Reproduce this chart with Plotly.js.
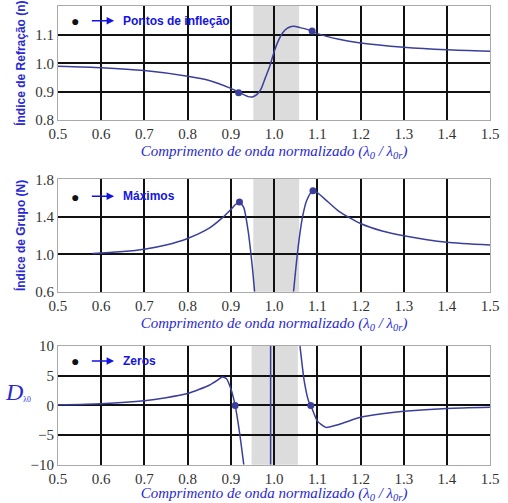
<!DOCTYPE html>
<html>
<head>
<meta charset="utf-8">
<script src="https://cdn.plot.ly/plotly-3.0.1.min.js"></script>
<style>body{margin:0}#myDiv{width:508px;height:503px}</style>
</head>
<body>
<div id="myDiv"></div>
<script>
// Índice de refração n
var n_x = [0.5,0.6,0.7,0.8,0.85,0.9,0.92,0.94,0.95,0.96,0.97,0.98,0.99,1.0,1.01,1.02,1.03,1.04,1.05,1.06,1.08,1.1,1.15,1.2,1.3,1.4,1.5];
var n_y = [0.99,0.985,0.975,0.955,0.94,0.912,0.897,0.883,0.882,0.89,0.91,0.95,0.99,1.04,1.08,1.108,1.123,1.13,1.13,1.126,1.118,1.105,1.085,1.072,1.057,1.048,1.043];
var n_pts_x = [0.918,1.088];
var n_pts_y = [0.897,1.114];

// Índice de grupo N (dois ramos)
var g1_x = [0.58,0.6,0.65,0.7,0.75,0.8,0.85,0.88,0.9,0.91,0.92,0.93,0.94,0.95,0.955];
var g1_y = [1.01,1.015,1.03,1.055,1.1,1.17,1.28,1.39,1.48,1.53,1.56,1.5,1.25,0.85,0.6];
var g2_x = [1.045,1.055,1.065,1.075,1.085,1.09,1.1,1.125,1.15,1.2,1.25,1.3,1.4,1.5];
var g2_y = [0.6,1.05,1.38,1.57,1.66,1.68,1.66,1.56,1.46,1.33,1.25,1.2,1.13,1.1];
var g_pts_x = [0.92,1.09];
var g_pts_y = [1.56,1.68];

// Dispersão D
var d1_x = [0.5,0.6,0.7,0.75,0.8,0.85,0.87,0.88,0.89,0.9,0.91,0.92,0.93];
var d1_y = [0.1,0.3,0.8,1.3,2.0,3.4,4.3,4.8,4.5,2.8,0,-4.5,-10];
var d2_x = [0.992,0.992];
var d2_y = [-10,10];
var d3_x = [1.06,1.07,1.08,1.085,1.1,1.12,1.15,1.2,1.25,1.3,1.4,1.5];
var d3_y = [10,4,0.7,0,-2.6,-3.7,-3.2,-2.0,-1.4,-1.0,-0.5,-0.3];
var d_pts_x = [0.91,1.085];
var d_pts_y = [0,0];

var blue = '#3b3f9a';
function line(x, y, xa, ya) {
  return {x: x, y: y, xaxis: xa, yaxis: ya, mode: 'lines', line: {color: blue, width: 1.5, shape: 'spline', smoothing: 0.6}, hoverinfo: 'none'};
}
function pts(x, y, xa, ya) {
  return {x: x, y: y, xaxis: xa, yaxis: ya, mode: 'markers', marker: {color: blue, size: 7}};
}
var data = [
  line(n_x, n_y, 'x', 'y'), pts(n_pts_x, n_pts_y, 'x', 'y'),
  line(g1_x, g1_y, 'x2', 'y2'), line(g2_x, g2_y, 'x2', 'y2'), pts(g_pts_x, g_pts_y, 'x2', 'y2'),
  line(d1_x, d1_y, 'x3', 'y3'), line(d2_x, d2_y, 'x3', 'y3'), line(d3_x, d3_y, 'x3', 'y3'), pts(d_pts_x, d_pts_y, 'x3', 'y3')
];

var serif = "'Liberation Serif', 'Times New Roman', 'DejaVu Serif', serif";
var tickFont = {family: serif, size: 15, color: '#333'};
var xtitle = {text: '<i>Comprimento de onda normalizado (λ<sub>0</sub> / λ<sub>0r</sub>)</i>', font: {family: serif, size: 15, color: '#2a2ad0'}, standoff: 4};
function xax(dom, anchor) {
  return {domain: dom, anchor: anchor, range: [0.5, 1.5], dtick: 0.1, tickformat: '.1f', tickfont: tickFont,
    showgrid: true, gridcolor: '#111', gridwidth: 2, zeroline: false, showline: true, linecolor: '#aaa', mirror: true,
    ticks: '', title: xtitle};
}
function yax(dom, anchor, range, vals, fmt, title) {
  return {domain: dom, anchor: anchor, range: range, tickmode: 'array', tickvals: vals, tickformat: fmt, tickfont: tickFont,
    showgrid: true, gridcolor: '#111', gridwidth: 2, zeroline: false, showline: true, linecolor: '#aaa', mirror: true,
    ticks: '', title: title};
}
var ytFont = {family: 'Liberation Sans', size: 12, color: '#2a2ad0'};
function band(xa, ya, x0, x1) {
  return {type: 'rect', xref: xa, yref: ya + ' domain', x0: x0, x1: x1, y0: 0, y1: 1, fillcolor: '#dcdcdc', line: {width: 0}, layer: 'below'};
}
function legend(xa, ya, yv, txt) {
  return [
    {xref: xa, yref: ya, x: 0.54, y: yv, text: '●', showarrow: false, font: {size: 14, color: '#111'}},
    {xref: xa, yref: ya, x: 0.63, y: yv, ax: 0.575, ay: yv, axref: xa, ayref: ya, text: '', showarrow: true, arrowhead: 2, arrowsize: 1, arrowwidth: 1.5, arrowcolor: '#1414e0'},
    {xref: xa, yref: ya, x: 0.645, y: yv, xanchor: 'left', text: '<b>' + txt + '</b>', showarrow: false, font: {family: 'Liberation Sans', size: 12, color: '#1414e0'}}
  ];
}

var layout = {
  width: 508, height: 503, margin: {l: 0, r: 0, t: 0, b: 0},
  paper_bgcolor: 'white', plot_bgcolor: 'white', showlegend: false,
  xaxis: xax([0.114, 0.965], 'y'),
  yaxis: yax([0.761, 0.988], 'x', [0.8, 1.202], [0.8, 0.9, 1.0, 1.1, 1.2], '.1f', {text: '<b>Índice de Refração (n)</b>', font: ytFont, standoff: 6}),
  xaxis2: xax([0.114, 0.965], 'y2'),
  yaxis2: yax([0.42, 0.644], 'x2', [0.6, 1.805], [0.6, 1.0, 1.4, 1.8], '.1f', {text: '<b>Índice de Grupo (N)</b>', font: ytFont, standoff: 6}),
  xaxis3: xax([0.114, 0.965], 'y3'),
  yaxis3: yax([0.076, 0.312], 'x3', [-10, 10], [-10, -5, 0, 5, 10], 'd', {text: ''}),
  shapes: [band('x', 'y', 0.952, 1.058), band('x2', 'y2', 0.952, 1.058), band('x3', 'y3', 0.948, 1.055)],
  annotations: [].concat(
    legend('x', 'y', 1.15, 'Pontos de infleção'),
    legend('x2', 'y2', 1.62, 'Máximos'),
    legend('x3', 'y3', 7.5, 'Zeros'),
    [{xref: 'paper', yref: 'paper', x: 0.005, xanchor: 'left', y: 0.19, text: '<i>D</i><span style="font-size:11px"><sub>λ0</sub></span>', showarrow: false,
      font: {family: serif, size: 24, color: '#2a2ad0'}}]
  )
};
Plotly.newPlot('myDiv', data, layout, {displayModeBar: false});
</script>
</body>
</html>
